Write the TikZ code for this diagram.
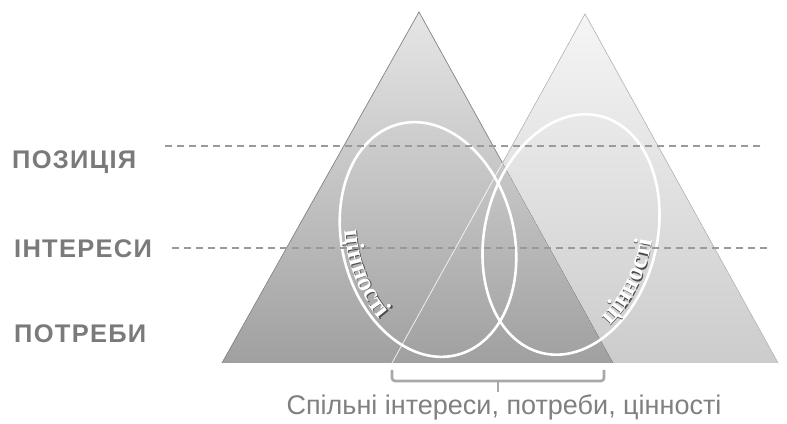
\documentclass[tikz,border=0pt]{standalone}
\usepackage{fontspec}
\setmainfont{Liberation Sans}
\newfontfamily\levelfont[LetterSpace=5]{Liberation Sans}
\newfontfamily\valuefont{Liberation Serif}
\usetikzlibrary{decorations.text}

\definecolor{lefttop}{HTML}{E6E6E6}
\definecolor{leftbot}{HTML}{A0A0A0}
\definecolor{righttop}{HTML}{F5F5F5}
\definecolor{rightbot}{HTML}{CCCCCC}
\definecolor{levelgray}{HTML}{7A7A7A}
\definecolor{linegray}{HTML}{9A9A9A}
\definecolor{bracegray}{HTML}{A8A8A8}

\tikzset{
  level/.style={anchor=west,inner sep=0pt,text=levelgray,font=\levelfont\bfseries\fontsize{25.5}{30}\selectfont},
  levelline/.style={draw=linegray,line width=1.2pt,dash pattern=on 7pt off 5pt},
  oval/.style={draw=white,line width=2.6pt},
  values/.style={decorate,decoration={text along path,text align=center,
      text={|\valuefont\bfseries\fontsize{26}{30}\selectfont|цінності}}}
}

\begin{document}
\begin{tikzpicture}[x=1pt,y=1pt]
  \useasboundingbox (0,0) rectangle (787,423);

  \coordinate (la) at (419,411);
  \coordinate (ll) at (222,60);
  \coordinate (lr) at (613,60);
  \coordinate (ra) at (585,409);
  \coordinate (rl) at (392,60);
  \coordinate (rr) at (778,60);
  \coordinate (cross) at (502.5,260);

  \fill[top color=righttop,bottom color=rightbot] (rl) -- (ra) -- (rr) -- cycle;
  \draw[black!25,line width=0.6pt] (rl) -- (ra) -- (rr);
  \fill[top color=lefttop,bottom color=leftbot] (ll) -- (la) -- (lr) -- cycle;
  \draw[black!45,line width=0.7pt] (ll) -- (la) -- (cross);
  \draw[white,opacity=0.8,line width=0.8pt] (rl) -- (cross);

  \coordinate (lc) at (428,183.5);
  \coordinate (rc) at (571,188.5);
  \draw[oval,rotate around={14:(lc)}] (lc) ellipse[x radius=86,y radius=119];
  \draw[oval,rotate around={-14:(rc)}] (rc) ellipse[x radius=86,y radius=122];

  \begin{scope}[rotate around={14:(lc)}]
    \path[values,decoration={text color=black!70}] ([shift={(0.9,-0.9)}]lc) ++(150:81 and 114)
      arc[start angle=150,end angle=232,x radius=81,y radius=114];
    \path[values,decoration={text color=white}] (lc) ++(150:81 and 114)
      arc[start angle=150,end angle=232,x radius=81,y radius=114];
  \end{scope}
  \begin{scope}[rotate around={-14:(rc)}]
    \path[values,decoration={text color=black!70}] ([shift={(0.9,-0.9)}]rc) ++(302:81 and 117)
      arc[start angle=302,end angle=380,x radius=81,y radius=117];
    \path[values,decoration={text color=white}] (rc) ++(302:81 and 117)
      arc[start angle=302,end angle=380,x radius=81,y radius=117];
  \end{scope}

  \node[level] (pos) at (12,261) {ПОЗИЦІЯ};
  \node[level] (int) at (14,174) {ІНТЕРЕСИ};
  \node[level] (need) at (14,89) {ПОТРЕБИ};

  \coordinate (pos1) at (165,277);
  \coordinate (pos2) at (765,277);
  \coordinate (int1) at (172,175);
  \coordinate (int2) at (768,175);
  \draw[levelline] (pos1) -- (pos2);
  \draw[levelline] (int1) -- (int2);

  \coordinate (bl) at (392,53);
  \coordinate (br) at (604,53);
  \coordinate (bm) at (498,42);
  \coordinate (bt) at (498,31);
  \draw[bracegray,line width=2.6pt,rounded corners=3pt] (bl) |- (bm) -| (br);
  \draw[bracegray,line width=2.6pt] (bm) -- (bt);

  \node[text=black!50,font=\fontsize{27}{32}\selectfont] (common) at (504,16) {Спільні інтереси, потреби, цінності};
\end{tikzpicture}
\end{document}
